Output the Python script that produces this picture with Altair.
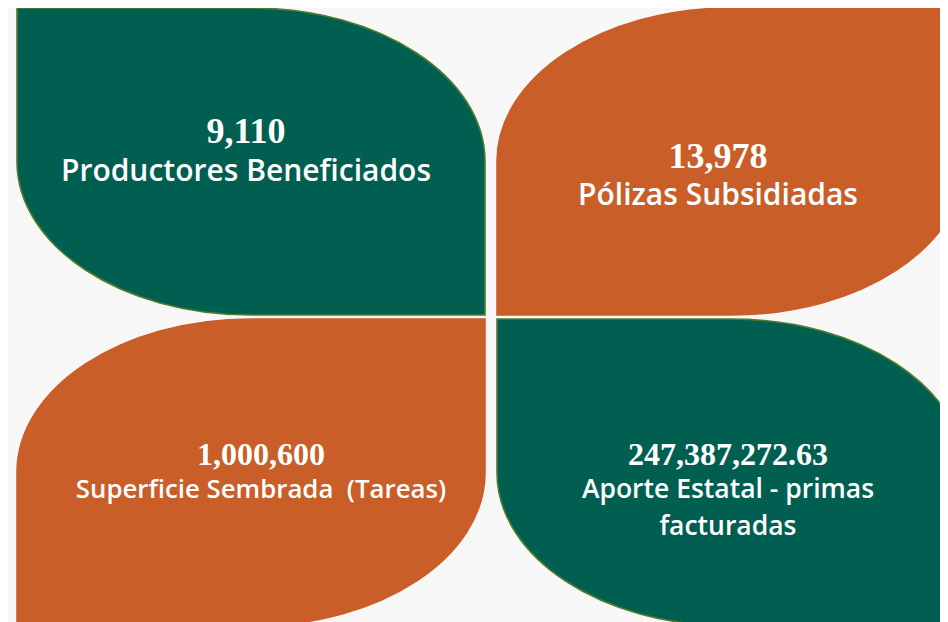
import altair as alt
import pandas as pd

# ---- data ----
labels = ["Productores Beneficiados", "Pólizas Subsidiadas",
          "Superficie Sembrada\u00a0 (Tareas)", "Aporte Estatal - primas\nfacturadas"]
values = [9110, 13978, 1000600, 247387272.63]
decimals = [0, 0, 0, 2]
tile_row = [0, 0, 1, 1]
tile_col = [0, 1, 0, 1]
tile_tone = ["green", "orange", "orange", "green"]
tile_leaf = ["A", "B", "B", "A"]

value_text = [f"{v:,.{d}f}" for v, d in zip(values, decimals)]

df = pd.DataFrame({
    "tile": list(range(4)),
    "label": labels,
    "value": values,
    "value_text": value_text,
    "row": tile_row,
    "col": tile_col,
    "tone": tile_tone,
    "leaf": tile_leaf,
})

# ---- styling / layout ----
W, H = 932, 614
LEAF_W, LEAF_H = 468, 307
a = LEAF_H / LEAF_W
k = 0.5523
f = lambda v: f"{v:.4f}"
PATH_A = (f"M -1 {f(-a)} L 0 {f(-a)} C {f(k)} {f(-a)} 1 {f(-k*a)} 1 0 "
          f"L 1 {f(a)} L 0 {f(a)} C {f(-k)} {f(a)} -1 {f(k*a)} -1 0 Z")
PATH_B = (f"M -1 0 C -1 {f(-k*a)} {f(-k)} {f(-a)} 0 {f(-a)} L 1 {f(-a)} L 1 0 "
          f"C 1 {f(k*a)} {f(k)} {f(a)} 0 {f(a)} L -1 {f(a)} Z")

GREEN = "#015f52"
ORANGE = "#c95e29"
OLIVE = "#4f7d2b"

xs = alt.Scale(domain=[0, 1], range=[243, 723], zero=False, nice=False)
ys = alt.Scale(domain=[0, 1], range=[153.5, 464.5], zero=False, nice=False)
X = alt.X("col:Q", scale=xs, axis=None)
Y = alt.Y("row:Q", scale=ys, axis=None)

base = alt.Chart(df)

leaves = base.mark_point(filled=True, opacity=1, strokeWidth=1.6).encode(
    x=X, y=Y,
    shape=alt.Shape("leaf:N", scale=alt.Scale(domain=["A", "B"], range=[PATH_A, PATH_B]), legend=None),
    fill=alt.Fill("tone:N", scale=alt.Scale(domain=["green", "orange"], range=[GREEN, ORANGE]), legend=None),
    stroke=alt.Stroke("tone:N", scale=alt.Scale(domain=["green", "orange"], range=[OLIVE, ORANGE]), legend=None),
    size=alt.value(LEAF_W * LEAF_W),
)

# per-tile text offsets from leaf centre: (dx, number dy, label dy)
TEXT_LAYOUT = [(-5, -18.5, 19.5), (-13, 6.5, 43.5), (10, -8, 25.5), (-3, -7.5, 25.5)]
NUM_SIZE = [36, 36, 32, 32]
LAB_SIZE = [30, 30, 25.8, 26.5]

layers = [leaves]
for i, (dx, ndy, ldy) in enumerate(TEXT_LAYOUT):
    sub = base.transform_filter(alt.datum.tile == i)
    layers.append(sub.mark_text(
        dx=dx, dy=ndy, baseline="alphabetic", align="center",
        font="Liberation Serif", fontWeight="bold", fontSize=NUM_SIZE[i], color="white",
    ).encode(x=X, y=Y, text="value_text:N"))
    layers.append(sub.mark_text(
        dx=dx, dy=ldy, baseline="alphabetic", align="center", lineBreak="\n", lineHeight=37,
        font="Open Sans", fontWeight=600, fontSize=LAB_SIZE[i], color="white",
    ).encode(x=X, y=Y, text="label:N"))

chart = alt.layer(*layers).properties(
    width=W, height=H, autosize=alt.AutoSizeParams(type="none"), padding=0,
    background="#f7f7f7",
).configure_view(stroke=None)

chart.save("out.html", embed_options={"renderer": "svg", "actions": False})
